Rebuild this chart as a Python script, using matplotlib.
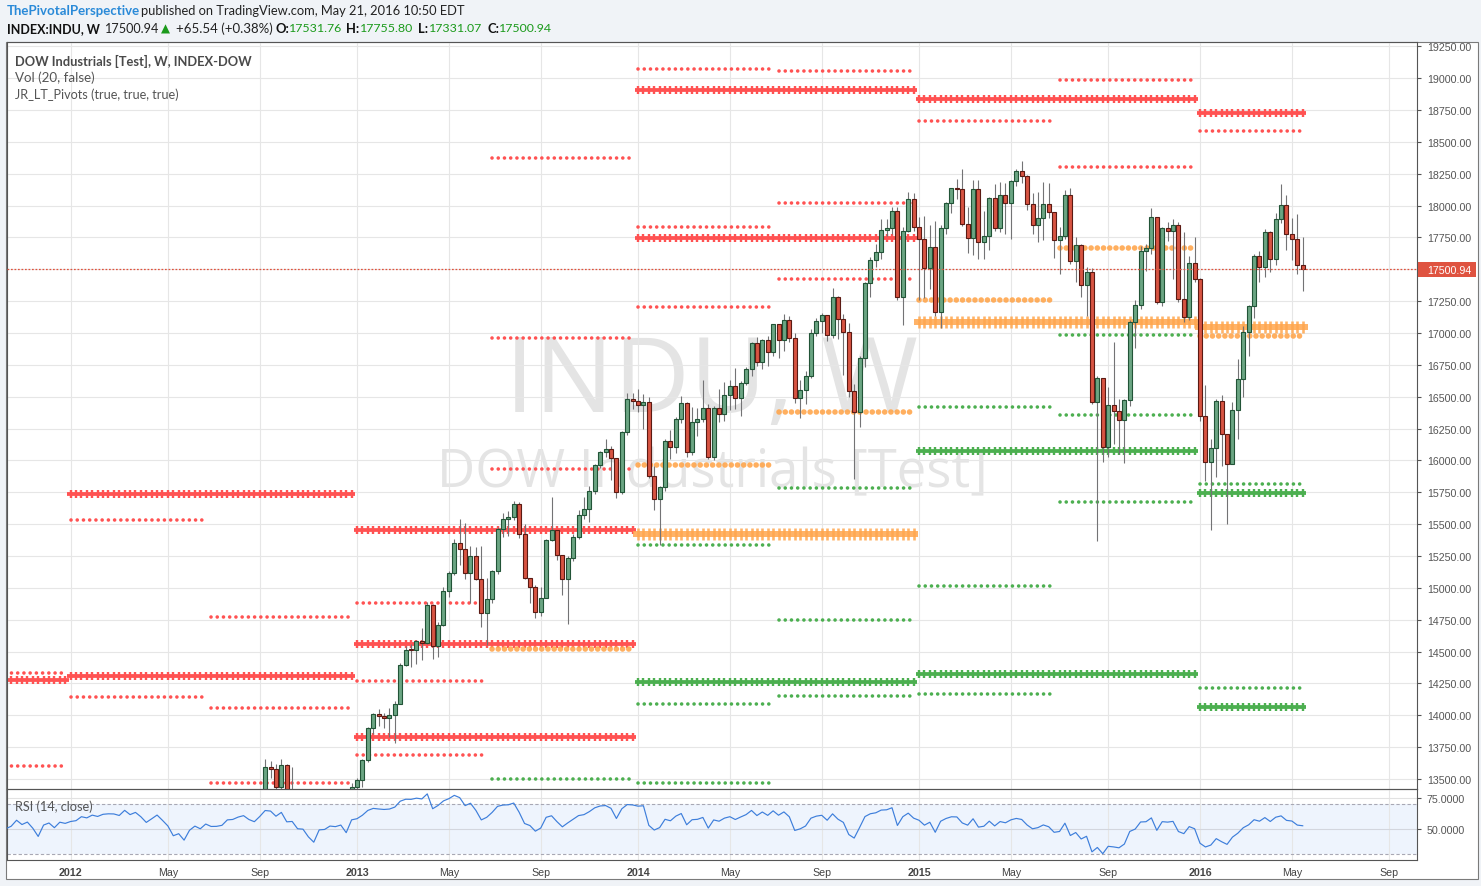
import matplotlib
matplotlib.use('Agg')
import matplotlib.pyplot as plt
from matplotlib.patches import Rectangle
import numpy as np
import pandas as pd

# weekly closes, DOW Industrials (week ending Friday), first week = Mon 2010-12-27
close_2010 = [11578]
close_2011 = [11675, 11787, 11871, 11824, 12092, 12273, 12391, 12130, 12170, 12044,
              11859, 12221, 12377, 12380, 12342, 12506, 12811, 12639, 12596, 12512,
              12442, 12151, 11952, 12004, 11934, 12582, 12657, 12480, 12681, 12143,
              11445, 11269, 10818, 11285, 11240, 10992, 11510, 10771, 10913, 11103,
              11644, 11809, 12231, 11983, 12153, 11796, 11231, 12019, 12184, 11867,
              12294, 12218]
close_2012 = [12360, 12422, 12720, 12660, 12862, 12801, 12950, 12983, 12978, 12922,
              13233, 13081, 13212, 13060, 12850, 13029, 13228, 13038, 12820, 12369,
              12455, 12119, 12554, 12767, 12640, 12880, 12772, 12777, 12822, 13075,
              13096, 13207, 13275, 13157, 13090, 13306, 13594, 13579, 13437, 13610,
              13329, 13344, 13107, 13093, 12815, 12588, 13010, 13026, 13155, 13135,
              13191, 12938]
close_2013 = [13435, 13488, 13650, 13896, 14009, 13993, 13981, 14000, 14090, 14397,
              14514, 14512, 14579, 14565, 14865, 14547, 14712, 14974, 15118, 15354,
              15303, 15116, 15248, 15070, 14800, 14910, 15135, 15464, 15543, 15559,
              15658, 15425, 15081, 15010, 14810, 14922, 15376, 15452, 15258, 15073,
              15237, 15400, 15570, 15615, 15762, 15962, 16064, 16086, 16020, 15755,
              16221, 16479]
close_2014 = [16469, 16437, 16458, 15879, 15699, 15794, 16154, 16103, 16322, 16453,
              16065, 16303, 16323, 16412, 16027, 16409, 16361, 16513, 16583, 16491,
              16606, 16717, 16924, 16776, 16947, 16851, 17068, 16944, 17100, 16961,
              16493, 16554, 16663, 17001, 17098, 17138, 16988, 17280, 17113, 17009,
              16544, 16380, 16805, 17391, 17573, 17634, 17810, 17828, 17958, 17281,
              17804, 18053]
close_2015 = [17833, 17737, 17511, 17672, 17165, 17825, 18019, 18140, 18133, 17856,
              17749, 18128, 17712, 17763, 18058, 17826, 18080, 18024, 18191, 18273,
              18232, 18011, 17849, 17899, 18015, 17947, 17730, 17760, 18086, 17568,
              17690, 17373, 17477, 16460, 16643, 16102, 16433, 16385, 16315, 16472,
              17084, 17216, 17647, 17664, 17910, 17245, 17824, 17798, 17848, 17265,
              17128, 17553, 17425]
close_2016 = [16347, 15988, 16094, 16466, 16205, 15974, 16392, 16640, 17007, 17214,
              17602, 17516, 17793, 17577, 17898, 18004, 17774, 17740, 17535, 17500.94]

# weekly highs / lows, candles drawn from the week of Mon 2012-09-03
high_2012 = [13320, 13653, 13640, 13615, 13660, 13620, 13590, 13370, 13290, 13250,
             12850, 13020, 13060, 13180, 13330, 13300, 13200]
low_2012 = [12980, 13250, 13505, 13410, 13420, 13300, 13320, 13060, 13030, 12740,
            12540, 12580, 12790, 12880, 13120, 13090, 12880]
high_2013 = [13470, 13510, 13660, 13910, 14020, 14046, 14020, 14060, 14110, 14413,
             14540, 14560, 14590, 14684, 14890, 14870, 14730, 15010, 15130, 15380,
             15542, 15510, 15330, 15320, 15330, 15080, 15140, 15480, 15590, 15600,
             15680, 15670, 15500, 15080, 15020, 15010, 15380, 15709, 15450, 15250,
             15250, 15420, 15610, 15710, 15800, 15970, 16070, 16170, 16110, 16020,
             16230, 16530]
low_2013 = [12930, 13330, 13440, 13630, 13850, 13915, 13900, 13830, 13784, 14085,
            14390, 14380, 14400, 14430, 14560, 14444, 14460, 14700, 14930, 15100,
            15180, 15070, 14880, 15060, 14690, 14551, 14880, 15110, 15400, 15410,
            15530, 15390, 15070, 14880, 14760, 14780, 14920, 15370, 15220, 14940,
            14719, 15210, 15380, 15540, 15520, 15740, 15940, 16030, 15850, 15703,
            15740, 16200]
high_2014 = [16530, 16558, 16520, 16500, 15960, 15800, 16170, 16236, 16340, 16506,
             16460, 16420, 16409, 16631, 16440, 16430, 16558, 16613, 16630, 16726,
             16620, 16735, 16930, 16970, 16950, 16980, 17074, 17060, 17146, 17133,
             17000, 16630, 16700, 17030, 17120, 17160, 17140, 17350, 17290, 17150,
             17080, 16600, 16820, 17400, 17600, 17696, 17892, 17894, 17991, 17990,
             17830, 18103]
low_2014 = [16400, 16377, 16244, 15860, 15608, 15340, 15760, 16008, 16060, 16290,
            16030, 16040, 16189, 16300, 16015, 16000, 16300, 16310, 16395, 16400,
            16348, 16590, 16660, 16740, 16716, 16740, 16820, 16801, 16859, 16930,
            16450, 16333, 16440, 16650, 16980, 17000, 16937, 16960, 16950, 16670,
            16500, 15855, 16260, 16730, 17282, 17520, 17580, 17760, 17780, 17260,
            17060, 17790]
high_2015 = [18100, 17910, 17918, 17850, 17880, 17850, 18030, 18140, 18206, 18288,
             17990, 18200, 18200, 17960, 18070, 18167, 18182, 18180, 18200, 18285,
             18351, 18240, 18100, 18110, 18184, 18180, 17950, 17830, 18122, 18137,
             17750, 17700, 17520, 17510, 16663, 16650, 16575, 16933, 16480, 16480,
             17100, 17260, 17680, 17700, 17978, 17900, 17830, 17868, 17892, 17870,
             17792, 17604, 17750]
low_2015 = [17800, 17262, 17272, 17345, 17133, 17037, 17780, 17940, 18050, 17840,
            17625, 17610, 17578, 17580, 17650, 17800, 17790, 17774, 17735, 18150,
            18180, 17966, 17780, 17712, 17730, 17900, 17590, 17465, 17740, 17540,
            17398, 17280, 17131, 16440, 15370, 15985, 16030, 16130, 16050, 15980,
            16430, 16880, 17190, 17490, 17620, 17230, 17210, 17720, 17421, 17240,
            17090, 17100, 17400]
high_2016 = [17430, 16589, 16165, 16480, 16510, 16210, 16460, 16793, 17055, 17220,
             17620, 17644, 17816, 17803, 17940, 18168, 18081, 17905, 17931, 17755.80]
low_2016 = [16310, 15838, 15450, 15867, 15960, 15503, 15970, 16166, 16500, 16820,
            17120, 17398, 17438, 17479, 17530, 17860, 17652, 17572, 17460, 17331.07]

# long term pivot levels
yearly_pivots = {
    '2011': {'R3': 14275},
    '2012': {'R2': 14305, 'R3': 15734},
    '2013': {'R1': 13831, 'R2': 14559, 'R3': 15457},
    '2014': {'S1': 14258, 'P': 15423, 'R1': 17742, 'R2': 18907},
    '2015': {'S2': 14327, 'S1': 16075, 'P': 17089, 'R1': 18837},
    '2016': {'S2': 14068, 'S1': 15747, 'P': 17049, 'R1': 18728},
}
half_pivots = {
    '2011H2': {'R2': 13603, 'R3': 14330},
    '2012H1': {'R2': 14141, 'R3': 15529},
    '2012H2': {'R1': 13467, 'R2': 14054, 'R3': 14770},
    '2013H1': {'R1': 13687, 'R2': 14269, 'R3': 14877},
    '2013H2': {'S1': 13496, 'P': 14519, 'R1': 15934, 'R2': 16957, 'R3': 18372},
    '2014H1': {'S3': 13465, 'S2': 14092, 'S1': 15334, 'P': 15961, 'R1': 17203, 'R2': 17830, 'R3': 19072},
    '2014H2': {'S3': 14149, 'S2': 14745, 'S1': 15786, 'P': 16382, 'R1': 17423, 'R2': 18019, 'R3': 19060},
    '2015H1': {'S3': 14169, 'S2': 15012, 'S1': 16417, 'P': 17260, 'R1': 18665},
    '2015H2': {'S3': 15673, 'S2': 16355, 'S1': 16987, 'P': 17669, 'R1': 18301, 'R2': 18983},
    '2016H1': {'S2': 14210, 'S1': 15817, 'P': 16977, 'R1': 18584},
}

price_ticks = list(range(13500, 19251, 250))
tick_months = [1, 5, 9]
tick_years = [2012, 2013, 2014, 2015, 2016]
month_names = {1: None, 5: 'May', 9: 'Sep'}

RED = '#ff5252'
GREEN = '#4caf50'
ORANGE = '#ffa64d'

W, H = 1481, 887
PT = 0.72  # points per pixel at dpi 100

closes = np.array(close_2010 + close_2011 + close_2012 + close_2013 + close_2014 + close_2015 + close_2016, float)
highs = np.array(high_2012 + high_2013 + high_2014 + high_2015 + high_2016, float)
lows = np.array(low_2012 + low_2013 + low_2014 + low_2015 + low_2016, float)

dates = pd.date_range('2010-12-27', periods=len(closes), freq='7D')
base = pd.Timestamp('2013-01-07')
xs = (dates - base).days.values / 7.0

opens = np.r_[closes[0], closes[:-1]]
k0 = dates.get_loc(pd.Timestamp('2012-09-03'))
cx, co, cc = xs[k0:], opens[k0:], closes[k0:]
ch = np.maximum(highs, np.maximum(co, cc))
cl = np.minimum(lows, np.minimum(co, cc))

# RSI(14) on close, Wilder smoothing
delta = np.diff(closes)
gain = np.clip(delta, 0, None)
loss = np.clip(-delta, 0, None)
rsi = np.full(len(closes), np.nan)
ag, al = gain[:14].mean(), loss[:14].mean()
rsi[14] = 100 - 100 / (1 + ag / al)
for i in range(14, len(delta)):
    ag = (ag * 13 + gain[i]) / 14
    al = (al * 13 + loss[i]) / 14
    rsi[i + 1] = 100 - 100 / (1 + ag / al)

fig = plt.figure(figsize=(W / 100, H / 100), dpi=100, facecolor='#f0f3f7')


def rect(x0, y0, x1, y1):
    return [x0 / W, 1 - y1 / H, (x1 - x0) / W, (y1 - y0) / H]


fig.patches.append(Rectangle((6 / W, 1 - 880 / H), 1472 / W, 837 / H, transform=fig.transFigure,
                             facecolor='white', edgecolor='#7a7a7a', lw=0.8, zorder=-10))

ax = fig.add_axes(rect(7, 43, 1417, 790))
rax = fig.add_axes(rect(7, 790, 1417, 861), sharex=ax)
for a in (ax, rax):
    a.set_facecolor('none')
    for s in a.spines.values():
        s.set_color('#555555')
        s.set_linewidth(0.8)

ax.set_xlim(-64.77, 196.15)
ax.set_ylim(13421, 19284)
rax.set_ylim(25.4, 82.2)

# month ticks at first weekly bar of the month
tick_x, tick_lab = [], []
for y in tick_years:
    for m in tick_months:
        d = pd.Timestamp(y, m, 1)
        d = d + pd.Timedelta(days=(7 - d.weekday()) % 7)
        tick_x.append((d - base).days / 7.0)
        tick_lab.append(str(y) if month_names[m] is None else month_names[m])

for v in price_ticks:
    ax.axhline(v, color='#e6e6e6', lw=0.8, zorder=0.5)
for t in tick_x:
    ax.axvline(t, color='#e6e6e6', lw=0.8, zorder=0.5)
    rax.axvline(t, color='#e6e6e6', lw=0.8, zorder=0.5)

# watermark
wm1 = ax.text(0.5, 0.542, 'INDU, W', transform=ax.transAxes, ha='center', va='center',
              fontsize=80, color='#e4e4e4', family='Open Sans', zorder=0.2)
wm2 = ax.text(0.5, 0.423, 'DOW Industrials [Test]', transform=ax.transAxes, ha='center', va='center',
              fontsize=42, color='#e4e4e4', family='Open Sans', zorder=0.2)


def period_x(key):
    yr = int(key[:4])
    m = dates.year == yr
    if key.endswith('H1'):
        m = m & (dates.month <= 6)
    elif key.endswith('H2'):
        m = m & (dates.month >= 7)
    return xs[m]


def level_color(name):
    return RED if name[0] == 'R' else (GREEN if name[0] == 'S' else ORANGE)


for key, lv in yearly_pivots.items():
    px = period_x(key)
    for name, v in lv.items():
        c = level_color(name)
        if name == 'P':
            ax.plot([px[0] - 0.9, px[-1] + 0.9], [v, v], color=c, lw=6 * PT, alpha=0.85,
                    solid_capstyle='butt', zorder=2)
            ax.plot(px, np.full(len(px), v), ls='none', marker='|', ms=12 * PT, mew=2.6 * PT,
                    color=c, alpha=0.85, zorder=2)
        else:
            ax.plot([px[0] - 0.65, px[-1] + 0.65], [v, v], color=c, lw=3.8 * PT,
                    solid_capstyle='butt', zorder=2)
            ax.plot(px, np.full(len(px), v), ls='none', marker='|', ms=8 * PT, mew=2.4 * PT,
                    color=c, zorder=2)

for key, lv in half_pivots.items():
    px = period_x(key)
    for name, v in lv.items():
        c = level_color(name)
        if name == 'P':
            ax.plot([px[0], px[-1]], [v, v], color=c, lw=5.6 * PT, alpha=0.9,
                    ls=(0, (0.01, 1.1)), dash_capstyle='round', zorder=2)
        else:
            ax.plot([px[0], px[-1]], [v, v], color=c, lw=3.6 * PT,
                    ls=(0, (0.01, 1.72)), dash_capstyle='round', zorder=2)

# candles
up = cc >= co
body_lo = np.minimum(co, cc)
body_h = np.maximum(np.abs(cc - co), 7)
ax.vlines(cx, cl, ch, color='#737375', lw=0.8, zorder=3)
ax.bar(cx[up], body_h[up], bottom=body_lo[up], width=0.74, color='#6ba583',
       edgecolor='#225437', lw=0.8, zorder=4)
ax.bar(cx[~up], body_h[~up], bottom=body_lo[~up], width=0.74, color='#d75442',
       edgecolor='#5b1a13', lw=0.8, zorder=4)

last = closes[-1]
ax.axhline(last, color='#e0533e', lw=0.9, ls=(0, (1.4, 1.4)), zorder=5)

# price axis
ax.yaxis.tick_right()
shown = [v for v in price_ticks if v != 17500]
ax.set_yticks(shown)
ax.set_yticklabels(['%.2f' % v for v in shown])
ax.tick_params(axis='y', direction='out', length=3, width=0.8, color='#555555',
               labelsize=7.7, labelcolor='#555555', pad=4)
ax.tick_params(axis='x', length=0, labelbottom=False)
for lab in ax.get_yticklabels():
    lab.set_family('Liberation Sans')

fig.patches.append(Rectangle((1418 / W, 1 - 278 / H), 58 / W, 15.5 / H, transform=fig.transFigure,
                             facecolor='#df5340', edgecolor='none', zorder=10))
fig.text(1427 / W, 1 - 270.5 / H, '%.2f' % last, color='white', fontsize=7.7,
         family='Liberation Sans', va='center', ha='left', zorder=11)

# RSI pane
rax.axhspan(30, 70, color='#eef4fd', zorder=0.1, lw=0)
rax.axhline(75, color='#e2e2e2', lw=0.8, zorder=0.5)
rax.axhline(50, color='#d3d6de', lw=0.8, zorder=0.5)
rax.axhline(70, color='#a8a8b4', lw=0.8, ls=(0, (3, 2)), zorder=0.6)
rax.axhline(30, color='#a8a8b4', lw=0.8, ls=(0, (3, 2)), zorder=0.6)
rax.plot(xs, rsi, color='#3d7edb', lw=0.85, zorder=3)
rax.yaxis.tick_right()
rax.set_yticks([50, 75])
rax.set_yticklabels(['50.0000', '75.0000'])
rax.tick_params(axis='y', direction='out', length=3, width=0.8, color='#555555',
                labelsize=7.7, labelcolor='#555555', pad=4)
rax.set_xticks(tick_x)
rax.set_xticklabels(tick_lab)
rax.tick_params(axis='x', length=0, labelsize=7.7, labelcolor='#444444', pad=5)
for lab in rax.get_yticklabels():
    lab.set_family('Liberation Sans')
for lab in rax.get_xticklabels():
    lab.set_family('Liberation Sans')
    if lab.get_text().isdigit():
        lab.set_fontweight('bold')

renderer = fig.canvas.get_renderer()


def fit(t, width_px):
    w = t.get_window_extent(renderer).width
    t.set_fontsize(t.get_fontsize() * width_px / w)


fit(wm1, 413)
fit(wm2, 551)


def put(x, y, s, width=None, **kw):
    kw.setdefault('family', 'Lato')
    kw.setdefault('fontsize', 9.4)
    t = fig.text(x / W, 1 - y / H, s, va='center', ha='left', **kw)
    if width:
        fit(t, width)
    return t


# header
put(7, 11, 'ThePivotalPerspective', width=133, color='#2a8ad8', fontweight='bold')
put(141, 11, 'published on TradingView.com, May 21, 2016 10:50 EDT', width=325, color='#222222')
put(7, 29, 'INDEX:INDU, W', width=92, color='#111111', fontweight='bold')
put(105, 29, '17500.94', width=54, color='#222222')
put(161, 29, '\u25b2', color='#1b9a1b', family='DejaVu Sans', fontsize=8.5)
put(176, 29, '+65.54 (+0.38%)', width=96, color='#222222')
for xl, lab, xv, val in [(275, 'O:', 289, '17531.76'), (346, 'H:', 360, '17755.80'),
                         (418, 'L:', 429, '17331.07'), (487, 'C:', 499, '17500.94')]:
    put(xl, 29, lab, color='#111111', fontweight='bold')
    put(xv, 29, val, width=53, color='#1b9a1b')

# legend inside main pane
put(15, 61, 'DOW Industrials [Test], W, INDEX-DOW', width=237, color='#4a4a4a', fontweight='bold')
put(15, 78, 'Vol (20, false)', width=80, color='#555555')
put(15, 95, 'JR_LT_Pivots (true, true, true)', width=164, color='#555555')
put(15, 807, 'RSI (14, close)', width=78, color='#555555')

fig.savefig('out.png', dpi=100, facecolor=fig.get_facecolor())
